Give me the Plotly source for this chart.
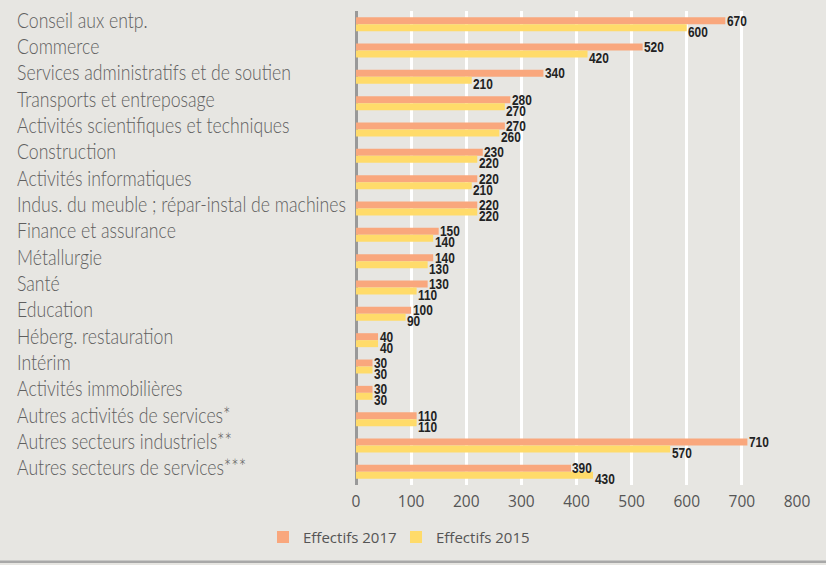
import plotly.graph_objects as go

categories = [
    "Conseil aux entp.",
    "Commerce",
    "Services administratifs et de soutien",
    "Transports et entreposage",
    "Activités scientifiques et techniques",
    "Construction",
    "Activités informatiques",
    "Indus. du meuble ; répar-instal de machines",
    "Finance et assurance",
    "Métallurgie",
    "Santé",
    "Education",
    "Héberg. restauration",
    "Intérim",
    "Activités immobilières",
    "Autres activités de services*",
    "Autres secteurs industriels**",
    "Autres secteurs de services***",
]
effectifs_2017 = [670, 520, 340, 280, 270, 230, 220, 220, 150, 140, 130, 100, 40, 30, 30, 110, 710, 390]
effectifs_2015 = [600, 420, 210, 270, 260, 220, 210, 220, 140, 130, 110, 90, 40, 30, 30, 110, 570, 430]
series_names = ["Effectifs 2017", "Effectifs 2015"]
x_ticks = [0, 100, 200, 300, 400, 500, 600, 700, 800]

W, H = 826, 565
L, R, T, B = 356, 29, 10.5, 79.5
plot_w = W - L - R
plot_h = H - T - B

BG = "#e7e6e2"
ORANGE = "#f9a77d"
YELLOW = "#ffdb6a"
VAL_FONT = "Liberation Sans, Arial, sans-serif"
LAB_FONT = "Lato, Liberation Sans, sans-serif"

fig = go.Figure()
for name, vals, col in [(series_names[0], effectifs_2017, ORANGE),
                        (series_names[1], effectifs_2015, YELLOW)]:
    fig.add_trace(go.Bar(
        y=categories, x=vals, name=name, orientation="h",
        marker=dict(color=col, line=dict(width=0)),
    ))

# category labels (annotations 0..n-1)
for c in categories:
    fig.add_annotation(
        x=(15 - L) / plot_w, xref="paper", y=c, yref="y",
        text=c, showarrow=False, xanchor="left", yanchor="middle",
        yshift=5,
        font=dict(family=LAB_FONT, size=22, color="#5f5f5f", weight=300),
    )

# value labels
for vals, ys in [(effectifs_2017, 3.5), (effectifs_2015, -7.5)]:
    for c, v in zip(categories, vals):
        fig.add_annotation(
            x=v, xref="x", y=c, yref="y", text=f"<b>{v}</b>",
            showarrow=False, xanchor="left", yanchor="middle",
            xshift=1.5, yshift=ys, borderpad=0, borderwidth=0,
            font=dict(family=VAL_FONT, size=14, color="#222222"),
        )

line_y = (T + plot_h - (H - 2.5)) / plot_h
fig.add_shape(type="line", xref="paper", yref="paper",
              x0=-L / plot_w, x1=(W - L) / plot_w, y0=line_y, y1=line_y,
              line=dict(color="#a8a8a8", width=2.5))

n = len(categories)
fig.update_layout(
    width=W, height=H,
    margin=dict(l=L, r=R, t=T, b=B, pad=0, autoexpand=False),
    paper_bgcolor=BG, plot_bgcolor=BG,
    barmode="group", bargap=0.47, bargroupgap=0,
    showlegend=True,
    legend=dict(orientation="h", x=(263 - L) / plot_w, xanchor="left",
                y=-0.11, yanchor="middle", entrywidth=88,
                font=dict(family="Open Sans, sans-serif", size=15, color="#555555"),
                bgcolor="rgba(0,0,0,0)"),
    xaxis=dict(range=[0, 800], autorange=False, tickvals=x_ticks, showgrid=True,
               gridcolor="#ffffff", gridwidth=2.5, automargin=False,
               zeroline=True, zerolinecolor="#999999", zerolinewidth=3,
               showline=False, ticks="", ticklabelstandoff=5,
               tickfont=dict(family="Open Sans, sans-serif", size=15.5, color="#555555")),
    yaxis=dict(categoryorder="array", categoryarray=categories,
               range=[n - 0.5, -0.5], autorange=False,
               showticklabels=False, showgrid=False,
               zeroline=False, ticks="", automargin=False),
)

post = """
document.body.style.margin = '0';
document.body.style.padding = '0';
var gd = document.getElementById('{plot_id}');
var N = %d;
var groups = gd.querySelectorAll('g.annotation');
var cat = [], val = [];
groups.forEach(function(g){
  var i = parseInt(g.getAttribute('data-index'));
  var t = g.querySelector('text.annotation-text');
  if (!t) return;
  if (i < N) cat.push(t); else val.push(t);
});
var maxW = 0;
cat.forEach(function(t){ var w = t.getBBox().width; if (w > maxW) maxW = w; });
var f = maxW > 0 ? 329 / maxW : 1;
function sx(t, k){
  t.style.transformBox = 'fill-box';
  t.style.transformOrigin = '0%% 50%%';
  t.style.transform = 'scaleX(' + k + ')';
}
cat.forEach(function(t){ sx(t, f); });
val.forEach(function(t){ sx(t, 0.85); });
""" % n

fig.write_html("out.html", post_script=post, config={"displayModeBar": False})
